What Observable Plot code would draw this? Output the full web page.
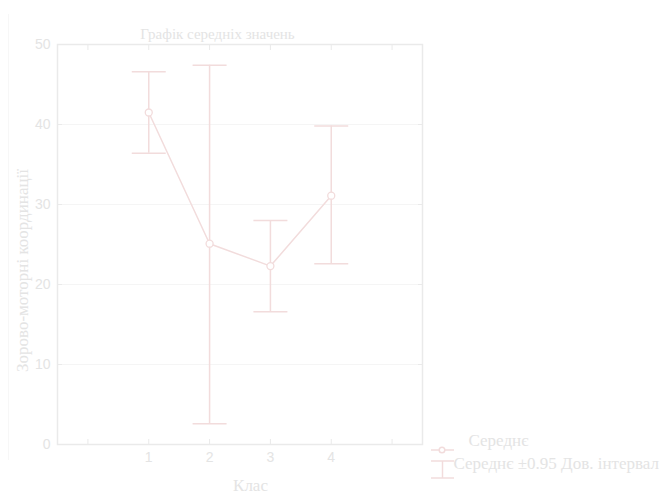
<!DOCTYPE html>
<html>
<head>
<meta charset="utf-8">
<script src="https://cdn.jsdelivr.net/npm/d3@7"></script>
<script src="https://cdn.jsdelivr.net/npm/@observablehq/plot@0.6"></script>
<style>
  html, body { margin: 0; padding: 0; background: #ffffff; }
  #chart { position: relative; width: 662px; height: 495px; overflow: hidden; }
</style>
</head>
<body>
<div id="chart"></div>
<script>
// ---- data ----
const classes = [1, 2, 3, 4];
const means = [41.5, 25.1, 22.3, 31.1];
const lower = [36.4, 2.6, 16.6, 22.6];
const upper = [46.6, 47.4, 28.0, 39.8];
const yTicks = [0, 10, 20, 30, 40, 50];
const xTicks = [0, 1, 2, 3, 4, 5];
const xLabelTicks = [1, 2, 3, 4];
const title = "Графік середніх значень";
const xTitle = "Клас";
const yTitle = "Зорово-моторні координації";
const legendMean = "Середнє";
const legendCI = "Середнє ±0.95 Дов. інтервал";

const rows = classes.map((c, i) => ({ cls: c, mean: means[i], lo: lower[i], hi: upper[i] }));

const textColor = "#e4e4e4";
const frameColor = "#eaeaea";
const gridColor = "#f5f5f5";
const lineColor = "#f2dcdc";
const serif = "'Liberation Serif', 'DejaVu Serif', serif";
const sans = "'Liberation Sans', Arial, sans-serif";

// horizontal cap symbol
const capSymbol = {
  draw(context, size) {
    const w = Math.sqrt(size / Math.PI);
    context.moveTo(-w, 0);
    context.lineTo(w, 0);
  }
};

const plot = Plot.plot({
  width: 662,
  height: 495,
  marginLeft: 57,
  marginRight: 240,
  marginTop: 44,
  marginBottom: 51,
  style: { background: "transparent", fontFamily: sans, fontSize: "14px", color: textColor },
  x: { domain: [-0.5, 5.5] },
  y: { domain: [0, 50] },
  marks: [
    Plot.ruleY(yTicks.slice(1, -1), { stroke: gridColor, strokeWidth: 1 }),
    // inward ticks
    Plot.axisY(yTicks, { anchor: "left", tickSize: -5, stroke: frameColor, tickFormat: () => "", label: null }),
    Plot.axisY(yTicks, { anchor: "right", tickSize: -5, stroke: frameColor, tickFormat: () => "", label: null }),
    Plot.axisX(xTicks, { anchor: "bottom", tickSize: -5, stroke: frameColor, tickFormat: () => "", label: null }),
    Plot.axisX(xTicks, { anchor: "top", tickSize: -5, stroke: frameColor, tickFormat: () => "", label: null }),
    // labels
    Plot.axisY(yTicks, { anchor: "left", tickSize: 0, tickPadding: 7, fill: textColor, fontSize: 14, label: null }),
    Plot.axisX(xLabelTicks, { anchor: "bottom", tickSize: 0, tickPadding: 8, fill: textColor, fontSize: 14, label: null }),
    Plot.frame({ stroke: frameColor, strokeWidth: 1.5 }),
    // error bars
    Plot.ruleX(rows, { x: "cls", y1: "lo", y2: "hi", stroke: lineColor, strokeWidth: 1.5 }),
    Plot.dot(rows, { x: "cls", y: "lo", symbol: capSymbol, r: 17, stroke: lineColor, strokeWidth: 1.5 }),
    Plot.dot(rows, { x: "cls", y: "hi", symbol: capSymbol, r: 17, stroke: lineColor, strokeWidth: 1.5 }),
    // means
    Plot.line(rows, { x: "cls", y: "mean", stroke: lineColor, strokeWidth: 1.5 }),
    Plot.dot(rows, { x: "cls", y: "mean", r: 3.5, stroke: lineColor, fill: "white", strokeWidth: 1.3 }),
    // titles
    Plot.text([title], { frameAnchor: "top-left", dx: 160, dy: -16, text: d => d, fill: textColor, fontFamily: serif, fontSize: 15, textAnchor: "middle" }),
    Plot.text([xTitle], { frameAnchor: "bottom-left", dx: 193, dy: 46, text: d => d, fill: textColor, fontFamily: serif, fontSize: 17, textAnchor: "middle" }),
    Plot.text([yTitle], { frameAnchor: "left", dx: -35, dy: 26, rotate: -90, text: d => d, fill: textColor, fontFamily: serif, fontSize: 17, textAnchor: "middle" }),
    // legend texts
    Plot.text([legendMean], { frameAnchor: "bottom-right", dx: 46, dy: 1, text: d => d, fill: textColor, fontFamily: serif, fontSize: 17, textAnchor: "start" }),
    Plot.text([legendCI], { frameAnchor: "bottom-right", dx: 31, dy: 24, text: d => d, fill: textColor, fontFamily: serif, fontSize: 17, textAnchor: "start" })
  ]
});

document.getElementById("chart").appendChild(plot);

// legend symbols + faint outer border
const svg = d3.select(plot);
svg.insert("line", ":first-child")
  .attr("x1", 8.5).attr("x2", 8.5).attr("y1", 14).attr("y2", 460)
  .attr("stroke", "#f7f7f7").attr("stroke-width", 1);
const lg = svg.append("g").attr("stroke", lineColor).attr("fill", "none").attr("stroke-width", 1.5);
lg.append("line").attr("x1", 431).attr("x2", 454).attr("y1", 450).attr("y2", 450);
lg.append("circle").attr("cx", 442).attr("cy", 450).attr("r", 2.8).attr("fill", "white");
lg.append("line").attr("x1", 431).attr("x2", 454).attr("y1", 461).attr("y2", 461);
lg.append("line").attr("x1", 431).attr("x2", 454).attr("y1", 478).attr("y2", 478);
lg.append("line").attr("x1", 442.5).attr("x2", 442.5).attr("y1", 461).attr("y2", 478);
</script>
</body>
</html>
